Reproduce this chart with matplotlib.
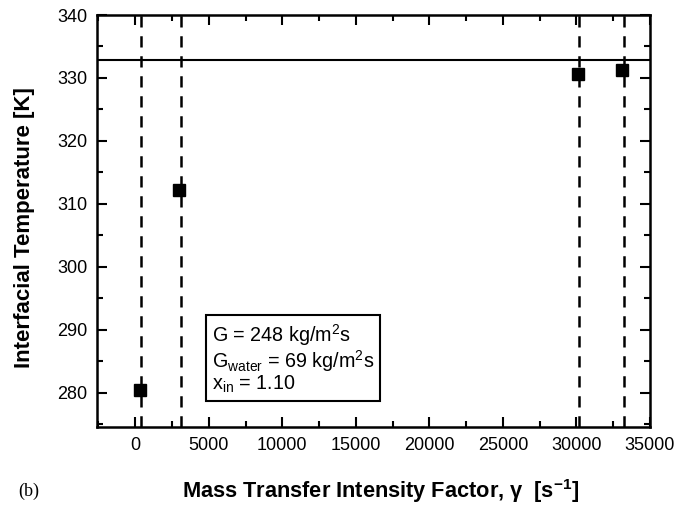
import matplotlib
matplotlib.use("Agg")
import matplotlib.pyplot as plt
from matplotlib.ticker import MultipleLocator

plt.rcParams['font.family'] = ['Liberation Sans', 'DejaVu Sans']
plt.rcParams['mathtext.fontset'] = 'custom'
plt.rcParams['mathtext.rm'] = 'Liberation Sans'
plt.rcParams['mathtext.bf'] = 'Liberation Sans:bold'

gamma = [300, 3000, 30100, 33100]
temp = [280.5, 312.2, 330.6, 331.3]
vlines_x = [400, 3100, 30200, 33200]
t_sat = 332.9

fig = plt.figure(figsize=(6.89, 5.05), dpi=100)
ax = fig.add_axes([97/689, 1-427/505, (650-97)/689, (427-15)/505])

ax.axhline(t_sat, color='black', lw=1.5)
for xv in vlines_x:
    ax.axvline(xv, color='black', lw=1.8, ls=(0, (4.5, 3.5)))
ax.plot(gamma, temp, 's', color='black', ms=8, ls='none', zorder=5)

ax.set_xlim(-2600, 35000)
ax.set_ylim(274.6, 340)
ax.xaxis.set_major_locator(MultipleLocator(5000))
ax.xaxis.set_minor_locator(MultipleLocator(2500))
ax.yaxis.set_major_locator(MultipleLocator(10))
ax.yaxis.set_minor_locator(MultipleLocator(5))
ax.tick_params(which='both', direction='in', top=True, right=True, labelsize=13, width=1.5)
ax.tick_params(which='major', length=7, pad=7)
ax.tick_params(which='minor', length=4)
for s in ax.spines.values():
    s.set_linewidth(1.8)

fig.text(25/689, 1-228/505, 'Interfacial Temperature [K]', fontsize=16, fontweight='bold',
         rotation=90, ha='center', va='center')
fig.text(381/689, 1-491/505, r'Mass Transfer Intensity Factor, γ  [s$^{\mathbf{-1}}$]', fontsize=15.7,
         fontweight='bold', ha='center', va='center')
fig.text(18/689, 1-491/505, '(b)', fontsize=13, family='Liberation Serif', ha='left', va='center')

txt = 'G = 248 kg/m$^2$s\nG$_{\\mathrm{water}}$ = 69 kg/m$^2$s\nx$_{\\mathrm{in}}$ = 1.10'
ax.text(0.208, 0.078, txt, transform=ax.transAxes, fontsize=14.2, ha='left', va='bottom',
        linespacing=1.0,
        bbox=dict(boxstyle='square,pad=0.3', fc='white', ec='black', lw=1.5))

fig.savefig('out.png', dpi=100)
